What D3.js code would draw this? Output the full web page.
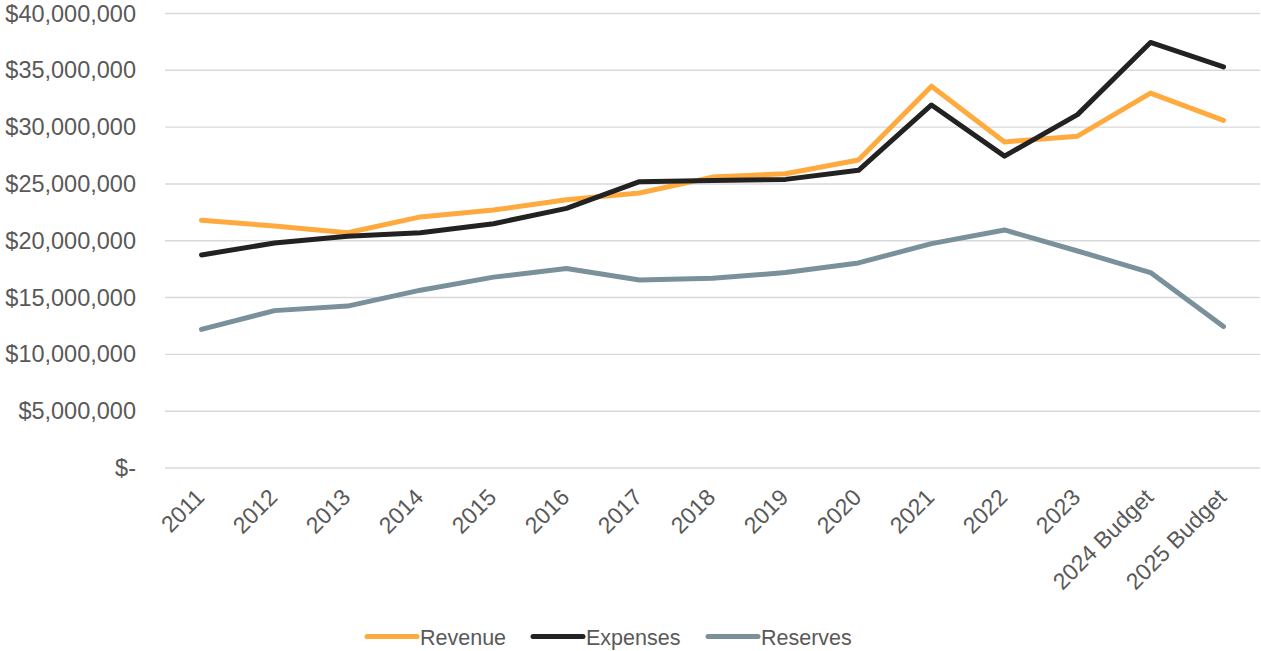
<!DOCTYPE html>
<html>
<head>
<meta charset="utf-8">
<script src="https://cdn.jsdelivr.net/npm/d3@7"></script>
<style>
  html, body { margin: 0; padding: 0; background: #fff; }
  svg { display: block; font-family: "Liberation Sans", Arial, sans-serif; }
</style>
</head>
<body>
<svg id="chart" width="1261" height="651"></svg>
<script>
// Fiscal periods shown along the x axis
const categories = ["2011", "2012", "2013", "2014", "2015", "2016", "2017", "2018",
  "2019", "2020", "2021", "2022", "2023", "2024 Budget", "2025 Budget"];

// Annual totals in dollars
const revenue = [21800000, 21300000, 20700000, 22100000, 22700000, 23600000, 24200000, 25600000,
  25900000, 27100000, 33600000, 28700000, 29200000, 33000000, 30600000];
const expenses = [18750000, 19800000, 20400000, 20700000, 21500000, 22850000, 25200000, 25300000,
  25400000, 26200000, 31950000, 27450000, 31100000, 37450000, 35300000];
const reserves = [12200000, 13850000, 14250000, 15650000, 16800000, 17550000, 16550000, 16700000,
  17200000, 18050000, 19750000, 20950000, 19100000, 17200000, 12450000];

const yTicks = [0, 5000000, 10000000, 15000000, 20000000, 25000000, 30000000, 35000000, 40000000];

const seriesList = [
  { name: "Revenue", values: revenue, color: "#FFAA3F" },
  { name: "Expenses", values: expenses, color: "#222222" },
  { name: "Reserves", values: reserves, color: "#7A909B" }
];

const svg = d3.select("#chart");
const textColor = "#595959";

const plot = { left: 165, right: 1260, top: 13.5, bottom: 468 };

const x = d3.scalePoint().domain(categories).range([plot.left, plot.right]).padding(0.5);
const y = d3.scaleLinear().domain([0, 40000000]).range([plot.bottom, plot.top]);

const money = d3.format("$,.0f");
const tickLabel = v => v === 0 ? "$-" : money(v);

// Horizontal gridlines
svg.append("g")
  .selectAll("line")
  .data(yTicks)
  .join("line")
  .attr("x1", plot.left)
  .attr("x2", plot.right)
  .attr("y1", d => y(d))
  .attr("y2", d => y(d))
  .attr("stroke", "#d9d9d9")
  .attr("stroke-width", 1.4);

// Y axis labels
const yAxis = d3.axisLeft(y).tickValues(yTicks).tickFormat(tickLabel).tickSize(0).tickPadding(0);
const yg = svg.append("g")
  .attr("transform", `translate(${plot.left - 29},0)`)
  .call(yAxis);
yg.select(".domain").remove();
yg.selectAll("text")
  .attr("fill", textColor)
  .style("font-size", "23.5px")
  .style("font-family", "'Liberation Sans', Arial, sans-serif");

// X axis labels, rotated
const xAxis = d3.axisBottom(x).tickSize(0).tickPadding(0);
const xg = svg.append("g")
  .attr("transform", `translate(0,${plot.bottom})`)
  .call(xAxis);
xg.select(".domain").remove();
xg.selectAll("text")
  .attr("fill", textColor)
  .style("font-size", "23px")
  .style("font-family", "'Liberation Sans', Arial, sans-serif")
  .attr("text-anchor", "end")
  .attr("dy", "0.35em")
  .attr("y", 0)
  .attr("transform", "translate(-2,25) rotate(-45)");

// Series lines
const line = d3.line()
  .x((d, i) => x(categories[i]))
  .y(d => y(d));

svg.append("g")
  .selectAll("path")
  .data(seriesList)
  .join("path")
  .attr("d", s => line(s.values))
  .attr("fill", "none")
  .attr("stroke", s => s.color)
  .attr("stroke-width", 5)
  .attr("stroke-linejoin", "round")
  .attr("stroke-linecap", "round");

// Legend
const legendX = [367, 533, 708];
const legend = svg.append("g")
  .selectAll("g")
  .data(seriesList)
  .join("g")
  .attr("transform", (d, i) => `translate(${legendX[i]},636.5)`);
legend.append("line")
  .attr("x1", 0).attr("x2", 50)
  .attr("y1", 0).attr("y2", 0)
  .attr("stroke", d => d.color)
  .attr("stroke-width", 5)
  .attr("stroke-linecap", "round");
legend.append("text")
  .attr("x", 53)
  .attr("y", 8.5)
  .attr("fill", textColor)
  .style("font-size", "21.5px")
  .text(d => d.name);
</script>
</body>
</html>
